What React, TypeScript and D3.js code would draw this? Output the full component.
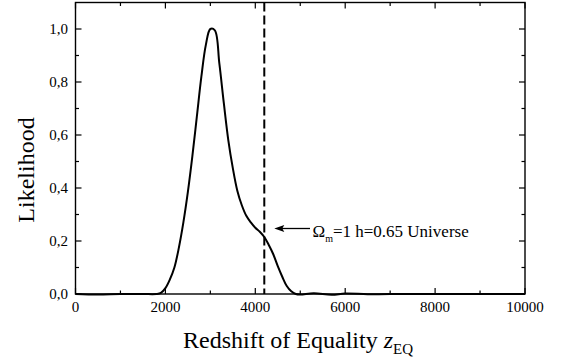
import React from "react";
import * as d3 from "d3";

const zValues = [0, 500, 1000, 1500, 1800, 1900, 2000, 2100, 2200, 2300, 2400, 2500, 2600, 2700, 2800, 2900, 3000, 3100, 3200, 3300, 3400, 3500, 3600, 3700, 3800, 3900, 4000, 4100, 4200, 4300, 4400, 4500, 4600, 4700, 4800, 4900, 5000, 5300, 5700, 6000, 6500, 7000, 10000];
const likelihood = [0, -0.002, 0, 0, 0, 0.004, 0.022, 0.055, 0.1, 0.175, 0.27, 0.385, 0.52, 0.67, 0.82, 0.94, 1.0, 0.995, 0.87, 0.72, 0.58, 0.475, 0.39, 0.335, 0.295, 0.27, 0.25, 0.235, 0.215, 0.185, 0.15, 0.105, 0.065, 0.03, 0.01, 0, -0.002, 0.003, -0.003, 0.002, -0.001, 0, 0];
const xMajorTicks = [0, 2000, 4000, 6000, 8000, 10000];
const xMinorTicks = [1000, 3000, 5000, 7000, 9000];
const yMajorTicks = [0, 0.2, 0.4, 0.6, 0.8, 1.0];
const yMinorTicks = [0.1, 0.3, 0.5, 0.7, 0.9];
const markerZ = 4200;
const markerLabel = "=1 h=0.65 Universe";

export default function App() {
  const W = 561, H = 364;
  const left = 75.5, right = 525, top = 2.5, bottom = 294;
  const x = d3.scaleLinear().domain([0, 10000]).range([left, right]);
  const y = d3.scaleLinear().domain([0, 1.1]).range([bottom, top]);
  const pts = zValues.map((z, i) => [z, likelihood[i]] as [number, number]);
  const line = d3.line<[number, number]>().x(d => x(d[0])).y(d => y(d[1])).curve(d3.curveCatmullRom.alpha(0.5));
  const font = "'Liberation Serif', 'Times New Roman', serif";
  const fmt = (v: number) => v.toFixed(1).replace(".", ",");
  const majLen = 6, minLen = 3.5;
  const markerY = 228.5;
  return (
    <svg width={W} height={H} style={{ position: "absolute", left: 0, top: 0, background: "#fff", fontFamily: font }}>
      <rect x={0} y={0} width={W} height={H} fill="#fff" />
      {/* curve */}
      <path d={line(pts) || ""} fill="none" stroke="#000" strokeWidth={2} />
      {/* dashed marker */}
      <line x1={x(markerZ)} x2={x(markerZ)} y1={top} y2={bottom} stroke="#000" strokeWidth={2} strokeDasharray="9,4" />
      {/* frame */}
      <rect x={left} y={top} width={right - left} height={bottom - top} fill="none" stroke="#000" strokeWidth={1.4} />
      {/* x ticks */}
      {xMajorTicks.map(t => (
        <g key={"xm" + t}>
          <line x1={x(t)} x2={x(t)} y1={bottom} y2={bottom - majLen} stroke="#000" strokeWidth={1.2} />
          <line x1={x(t)} x2={x(t)} y1={top} y2={top + majLen} stroke="#000" strokeWidth={1.2} />
          <text x={x(t)} y={311.5} textAnchor="middle" fontSize={15}>{t}</text>
        </g>
      ))}
      {xMinorTicks.map(t => (
        <g key={"xn" + t}>
          <line x1={x(t)} x2={x(t)} y1={bottom} y2={bottom - minLen} stroke="#000" strokeWidth={1.2} />
          <line x1={x(t)} x2={x(t)} y1={top} y2={top + minLen} stroke="#000" strokeWidth={1.2} />
        </g>
      ))}
      {yMajorTicks.map(t => (
        <g key={"ym" + t}>
          <line x1={left} x2={left + majLen} y1={y(t)} y2={y(t)} stroke="#000" strokeWidth={1.2} />
          <line x1={right} x2={right - majLen} y1={y(t)} y2={y(t)} stroke="#000" strokeWidth={1.2} />
          <text x={68} y={y(t) + 5} textAnchor="end" fontSize={15}>{fmt(t)}</text>
        </g>
      ))}
      {yMinorTicks.map(t => (
        <g key={"yn" + t}>
          <line x1={left} x2={left + minLen} y1={y(t)} y2={y(t)} stroke="#000" strokeWidth={1.2} />
          <line x1={right} x2={right - minLen} y1={y(t)} y2={y(t)} stroke="#000" strokeWidth={1.2} />
        </g>
      ))}
      {/* annotation arrow */}
      <line x1={x(markerZ) + 16} x2={310} y1={markerY} y2={markerY} stroke="#000" strokeWidth={1.3} />
      <path d={`M${x(markerZ) + 10},${markerY} L${x(markerZ) + 20},${markerY - 3.5} L${x(markerZ) + 18},${markerY} L${x(markerZ) + 20},${markerY + 3.5} Z`} fill="#000" />
      <text x={312.5} y={236.5} fontSize={17}>
        Ω<tspan fontSize={10} dy={5}>m</tspan><tspan dy={-5} fontSize={17}>{markerLabel}</tspan>
      </text>
      {/* axis titles */}
      <text x={183} y={348} fontSize={24}>
        Redshift of Equality <tspan fontStyle="italic">z</tspan><tspan fontSize={15} dy={6}>EQ</tspan>
      </text>
      <text transform="translate(34,170) rotate(-90)" textAnchor="middle" fontSize={24}>Likelihood</text>
    </svg>
  );
}
